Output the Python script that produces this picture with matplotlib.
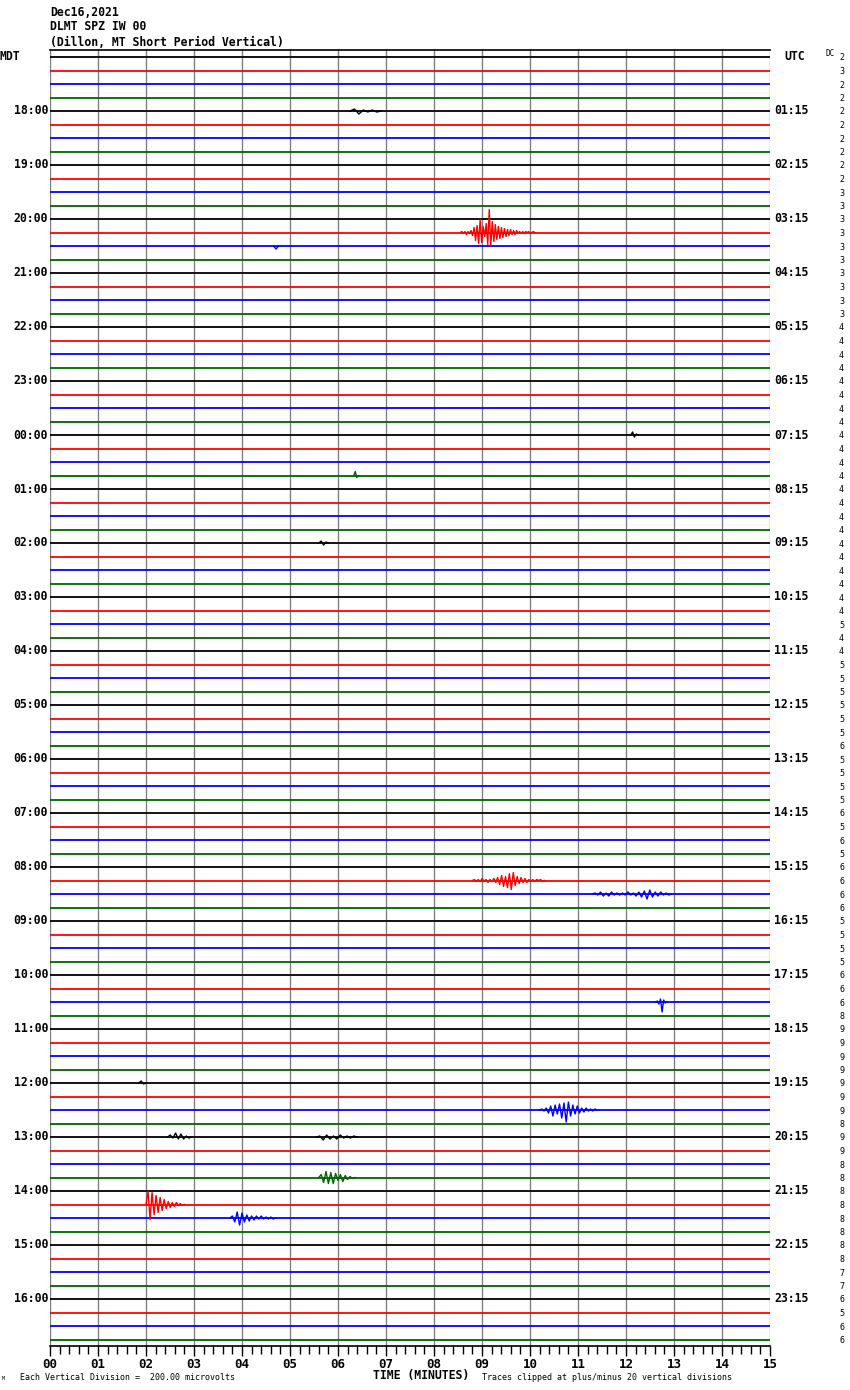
import numpy as np
import matplotlib
matplotlib.use("Agg")
import matplotlib.pyplot as plt

# header / labels
title_lines = ["Dec16,2021", "DLMT SPZ IW 00", "(Dillon, MT Short Period Vertical)"]
local_hours = ["17:00", "18:00", "19:00", "20:00", "21:00", "22:00", "23:00", "00:00",
               "01:00", "02:00", "03:00", "04:00", "05:00", "06:00", "07:00", "08:00",
               "09:00", "10:00", "11:00", "12:00", "13:00", "14:00", "15:00", "16:00"]
utc_hours = ["00:15", "01:15", "02:15", "03:15", "04:15", "05:15", "06:15", "07:15",
             "08:15", "09:15", "10:15", "11:15", "12:15", "13:15", "14:15", "15:15",
             "16:15", "17:15", "18:15", "19:15", "20:15", "21:15", "22:15", "23:15"]
minute_labels = ["00", "01", "02", "03", "04", "05", "06", "07", "08",
                 "09", "10", "11", "12", "13", "14", "15"]

# DC offset column (first digit visible), one per trace line
dc_values = [2, 3, 2, 2, 2, 2, 2, 2, 2, 2, 3, 3, 3, 3, 3, 3,
             3, 3, 3, 3, 4, 4, 4, 4, 4, 4, 4, 4, 4, 4, 4, 4,
             4, 4, 4, 4, 4, 4, 4, 4, 4, 4, 5, 4, 4, 5, 5, 5,
             5, 5, 5, 6, 5, 5, 5, 5, 6, 5, 6, 5, 6, 6, 6, 6,
             5, 5, 5, 5, 6, 6, 6, 8, 9, 9, 9, 9, 9, 9, 9, 8,
             9, 9, 8, 8, 8, 8, 8, 8, 8, 8, 7, 7, 6, 5, 6, 6]

trace_colors = ["#000000", "#ff0000", "#0000ff", "#006400"]

# seismic events: trace row, start minute, end minute, wiggle (pixels, + = up)
event_rows = [13, 61, 62, 70, 78, 80, 80, 83, 85, 86, 4, 14, 28, 31, 36, 76]
event_start = [8.55, 8.80, 11.30, 12.62, 10.20, 2.45, 5.55, 5.60, 2.00, 3.75,
               6.25, 4.66, 12.10, 6.33, 5.60, 1.85]
event_end = [10.10, 10.30, 12.95, 12.85, 11.40, 2.95, 6.40, 6.35, 2.80, 4.70,
             6.90, 4.76, 12.25, 6.42, 5.80, 2.00]
event_wiggles = [
    [0, 1, -1, 1, -2, 1, -1, 2, -3, 5, -8, 7, -11, 13, -10, 6, -4, 9, -12, 23, -13, 11,
     -9, 8, -7, 6, -6, 5, -5, 4, -4, 3, -3, 3, -2, 2, -2, 2, -1, 1, -1, 1, -1, 1, 0, 1,
     -1, 0, 1, 0],
    [0, 1, -1, 1, -1, 2, -1, 1, -2, 1, -1, 2, -2, 3, -4, 5, -6, 4, -7, 7, -9, 8, -5, 4,
     -3, 3, -2, 2, -2, 1, -1, 1, -1, 1, 0, 1, -1, 0],
    [0, 1, -1, 2, -2, 1, -2, 2, -1, 1, -1, 1, -1, 2, -1, 1, -2, 2, -3, 3, -5, 4, -3, 2,
     -2, 2, -1, 1, -1, 0],
    [0, 1, -2, 3, -10, 2, -1, 0],
    [0, 1, -1, 2, -3, 4, -6, 5, -4, 6, -8, 7, -12, 8, -6, 5, -4, 4, -3, 2, -2, 2, -1, 1,
     -1, 1, 0],
    [0, 2, -1, 4, -2, 3, -2, 1, -1, 0],
    [0, 1, -3, 2, -2, 1, -2, 2, -1, 1, -1, 1, 0],
    [0, 3, -5, 6, -6, 5, -6, 4, -3, 3, -4, 2, -2, 1, -1, 0],
    [0, 13, -15, 12, -10, 9, -8, 7, -6, 5, -4, 3, -3, 2, -2, 2, -1, 1, -1, 0],
    [0, 2, -4, 6, -7, 5, -4, 3, -3, 2, -2, 2, -1, 2, -1, 1, -1, 1, -1, 0],
    [0, 2, -3, 1, -1, 1, -1, 0],
    [0, -3, 0],
    [0, 3, -2, 1, 0],
    [0, 4, -2, 0],
    [0, 2, -2, 1, 0],
    [0, 2, -1, 0],
]

n_rows = len(dc_values)
row_px = 13.5

fig = plt.figure(figsize=(8.5, 13.9), dpi=100)
W, H = 850, 1390
ax = fig.add_axes([50 / W, 44 / H, 720 / W, 1296 / H])
ax.set_xlim(0, 15)
ax.set_ylim(95.48, -0.52)

# minute grid
for m in range(16):
    ax.axvline(m, color="#808080", lw=1.0, zorder=1)

# trace baselines
for r in range(n_rows):
    ax.plot([0, 15], [r, r], color=trace_colors[r % 4], lw=1.3, zorder=2,
            solid_capstyle="butt")

# events
for r, t0, t1, w in zip(event_rows, event_start, event_end, event_wiggles):
    t = np.linspace(t0, t1, len(w))
    y = r - np.array(w) / row_px
    ax.plot(t, y, color=trace_colors[r % 4], lw=1.0, zorder=3)

for s in ["left", "right"]:
    ax.spines[s].set_visible(False)
ax.spines["top"].set_color("black")
ax.spines["bottom"].set_color("black")
ax.spines["top"].set_linewidth(1.2)
ax.spines["bottom"].set_linewidth(1.2)

ax.set_yticks([])
ax.set_xticks(range(16))
ax.set_xticklabels(minute_labels, fontsize=9, family="DejaVu Sans Mono",
                   fontweight="bold")
ax.set_xticks(np.arange(0, 15.01, 0.2), minor=True)
ax.tick_params(axis="x", which="major", length=7.5, width=1, direction="out", pad=1)
ax.tick_params(axis="x", which="minor", length=6, width=1, direction="out")

mono = dict(family="DejaVu Sans Mono", fontweight="bold")

def px(x, y):
    return x / W, 1 - y / H

for i, line in enumerate(title_lines):
    fig.text(*px(50, 12 + 15 * i), line, fontsize=8.3, va="center", ha="left", **mono)

fig.text(*px(0, 57), "MDT", fontsize=8.3, va="center", ha="left", **mono)
fig.text(*px(784, 57), "UTC", fontsize=8.3, va="center", ha="left", **mono)
fig.text(*px(826, 54), "DC", fontsize=5.5, va="center", ha="left",
         family="DejaVu Sans Mono")

for h in range(1, 24):
    r = h * 4
    y = 57 + r * row_px
    fig.text(*px(48, y), local_hours[h], fontsize=8.3, va="center", ha="right", **mono)
    fig.text(*px(774, y), utc_hours[h], fontsize=8.3, va="center", ha="left", **mono)

for r, dc in enumerate(dc_values):
    y = 57 + r * row_px
    fig.text(*px(839, y + 1), str(dc), fontsize=6, va="center", ha="left",
             family="DejaVu Sans Mono")

fig.text(*px(2, 1379), "M", fontsize=3.5, va="center", ha="left",
         family="DejaVu Sans Mono")
fig.text(*px(20, 1377), "Each Vertical Division =  200.00 microvolts", fontsize=6,
         va="center", ha="left", family="DejaVu Sans Mono")
fig.text(*px(373, 1376), "TIME (MINUTES)", fontsize=8.3, va="center", ha="left", **mono)
fig.text(*px(482, 1377), "Traces clipped at plus/minus 20 vertical divisions",
         fontsize=6, va="center", ha="left", family="DejaVu Sans Mono")

fig.savefig("out.png", dpi=100)
